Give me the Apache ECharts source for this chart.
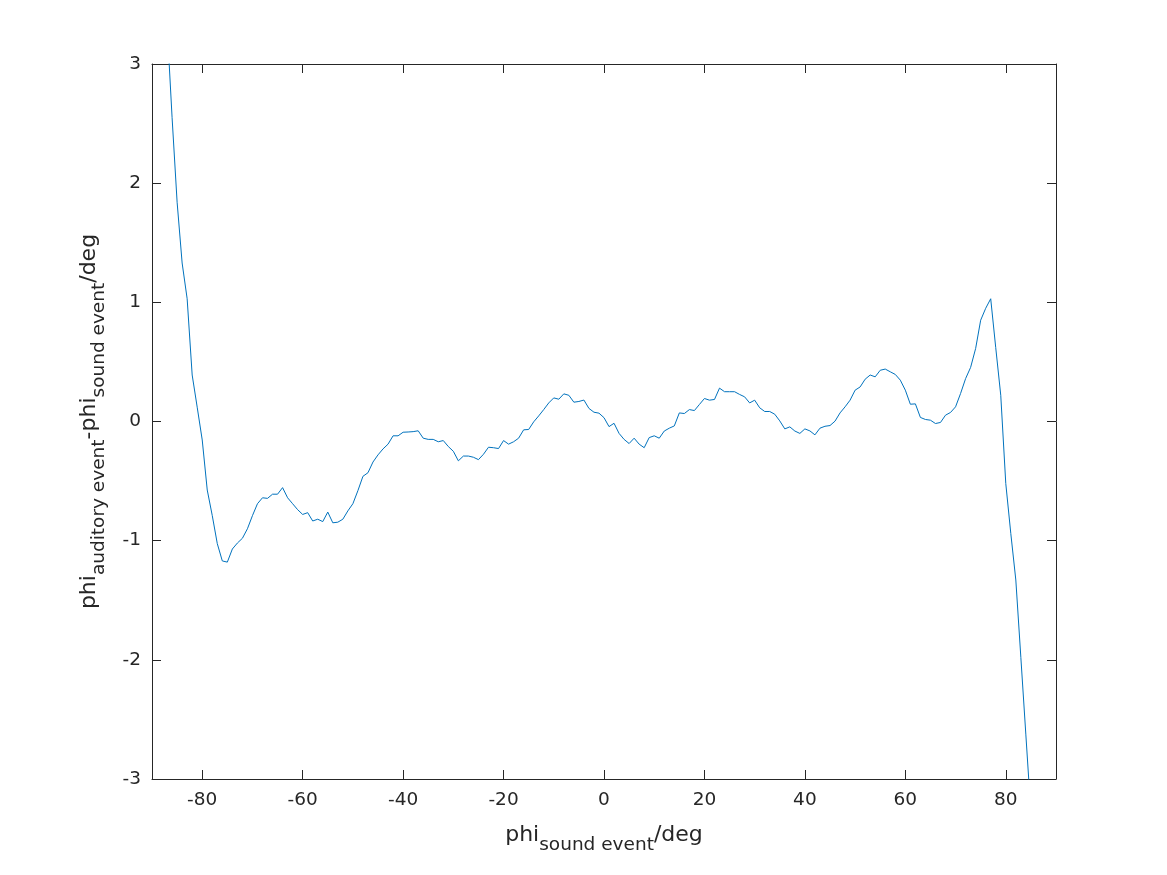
<!DOCTYPE html>
<html>
<head>
<meta charset="utf-8">
<script src="https://cdn.jsdelivr.net/npm/echarts@6/dist/echarts.min.js"></script>
<style>html,body{margin:0;padding:0;background:#fff;}#c{width:1167px;height:875px;}</style>
</head>
<body>
<div id="c"></div>
<script>
const xValues = [-88,-87,-86,-85,-84,-83,-82,-81,-80,-79,-78,-77,-76,-75,-74,-73,-72,-71,-70,-69,-68,-67,-66,-65,-64,-63,-62,-61,-60,-59,-58,-57,-56,-55,-54,-53,-52,-51,-50,-49,-48,-47,-46,-45,-44,-43,-42,-41,-40,-39,-38,-37,-36,-35,-34,-33,-32,-31,-30,-29,-28,-27,-26,-25,-24,-23,-22,-21,-20,-19,-18,-17,-16,-15,-14,-13,-12,-11,-10,-9,-8,-7,-6,-5,-4,-3,-2,-1,0,1,2,3,4,5,6,7,8,9,10,11,12,13,14,15,16,17,18,19,20,21,22,23,24,25,26,27,28,29,30,31,32,33,34,35,36,37,38,39,40,41,42,43,44,45,46,47,48,49,50,51,52,53,54,55,56,57,58,59,60,61,62,63,64,65,66,67,68,69,70,71,72,73,74,75,76,77,78,79,80,81,82,83,84,85,86];
const yValues = [4.1,3.33,2.55,1.84,1.33,1.03,0.39,0.12,-0.155,-0.575,-0.79,-1.025,-1.17,-1.18,-1.07,-1.02,-0.98,-0.90,-0.79,-0.69,-0.64,-0.645,-0.61,-0.61,-0.555,-0.64,-0.69,-0.74,-0.78,-0.765,-0.835,-0.82,-0.84,-0.76,-0.85,-0.845,-0.82,-0.75,-0.69,-0.58,-0.46,-0.43,-0.34,-0.28,-0.23,-0.19,-0.12,-0.12,-0.09,-0.088,-0.085,-0.078,-0.14,-0.15,-0.15,-0.17,-0.16,-0.21,-0.25,-0.33,-0.29,-0.29,-0.30,-0.32,-0.275,-0.216,-0.22,-0.227,-0.16,-0.19,-0.17,-0.14,-0.07,-0.067,-0.003,0.047,0.10,0.156,0.198,0.187,0.232,0.22,0.162,0.168,0.18,0.11,0.078,0.07,0.032,-0.043,-0.015,-0.10,-0.15,-0.185,-0.14,-0.19,-0.22,-0.135,-0.12,-0.14,-0.08,-0.056,-0.037,0.072,0.067,0.10,0.092,0.143,0.193,0.179,0.185,0.28,0.25,0.25,0.25,0.227,0.207,0.156,0.179,0.115,0.084,0.084,0.061,0.005,-0.062,-0.045,-0.08,-0.10,-0.062,-0.079,-0.112,-0.056,-0.04,-0.034,0.003,0.072,0.123,0.179,0.263,0.29,0.355,0.39,0.375,0.43,0.44,0.417,0.395,0.347,0.263,0.145,0.148,0.034,0.017,0.011,-0.017,-0.008,0.053,0.076,0.123,0.235,0.36,0.454,0.613,0.85,0.95,1.03,0.62,0.22,-0.52,-0.94,-1.33,-1.98,-2.63,-3.28,-3.9];
const xTicks = [-80,-60,-40,-20,0,20,40,60,80];
const yTicks = [-3,-2,-1,0,1,2,3];

const ink = '#262626';
const font = 'DejaVu Sans';
const data = xValues.map((x, i) => [x, yValues[i]]);

const chart = echarts.init(document.getElementById('c'), null, {renderer: 'canvas'});
const baseX = {
  type: 'value', min: -90, max: 90,
  splitLine: {show: false},
  axisLine: {show: true, onZero: false, lineStyle: {color: ink, width: 1}},
  axisTick: {show: true, inside: true, length: 9, customValues: xTicks, lineStyle: {color: ink}},
};
const baseY = {
  type: 'value', min: -3, max: 3, interval: 1,
  splitLine: {show: false},
  axisLine: {show: true, onZero: false, lineStyle: {color: ink, width: 1}},
  axisTick: {show: true, inside: true, length: 9, lineStyle: {color: ink}},
};
const titleRich = {
  m: {fontSize: 22, color: ink, fontFamily: font},
  s: {fontSize: 18.5, color: ink, fontFamily: font, padding: [20, 0, 0, 0]}
};
chart.setOption({
  animation: false,
  backgroundColor: '#fff',
  grid: {left: 152, right: 111, top: 64, bottom: 96, containLabel: false},
  xAxis: [
    Object.assign({}, baseX, {
      position: 'bottom',
      axisLabel: {show: true, customValues: xTicks, color: ink, fontFamily: font, fontSize: 18.5, margin: 12},
      name: '{m|phi}{s|sound event}{m|/deg}',
      nameLocation: 'middle', nameGap: 37,
      nameTextStyle: {color: ink, fontFamily: font, rich: titleRich}
    }),
    Object.assign({}, baseX, {position: 'top', axisLabel: {show: false}})
  ],
  yAxis: [
    Object.assign({}, baseY, {
      position: 'left',
      axisLabel: {show: true, color: ink, fontFamily: font, fontSize: 18.5, margin: 11},
      name: '{m|phi}{s|auditory event}{m|-phi}{s|sound event}{m|/deg}',
      nameLocation: 'middle', nameRotate: 90, nameGap: 43,
      nameTextStyle: {color: ink, fontFamily: font, rich: titleRich}
    }),
    Object.assign({}, baseY, {position: 'right', axisLabel: {show: false}})
  ],
  series: [{
    type: 'line',
    data: data,
    xAxisIndex: 0, yAxisIndex: 0,
    showSymbol: false, symbol: 'none',
    clip: true,
    lineStyle: {color: '#0072BD', width: 1},
    itemStyle: {color: '#0072BD'}
  }]
});
</script>
</body>
</html>
